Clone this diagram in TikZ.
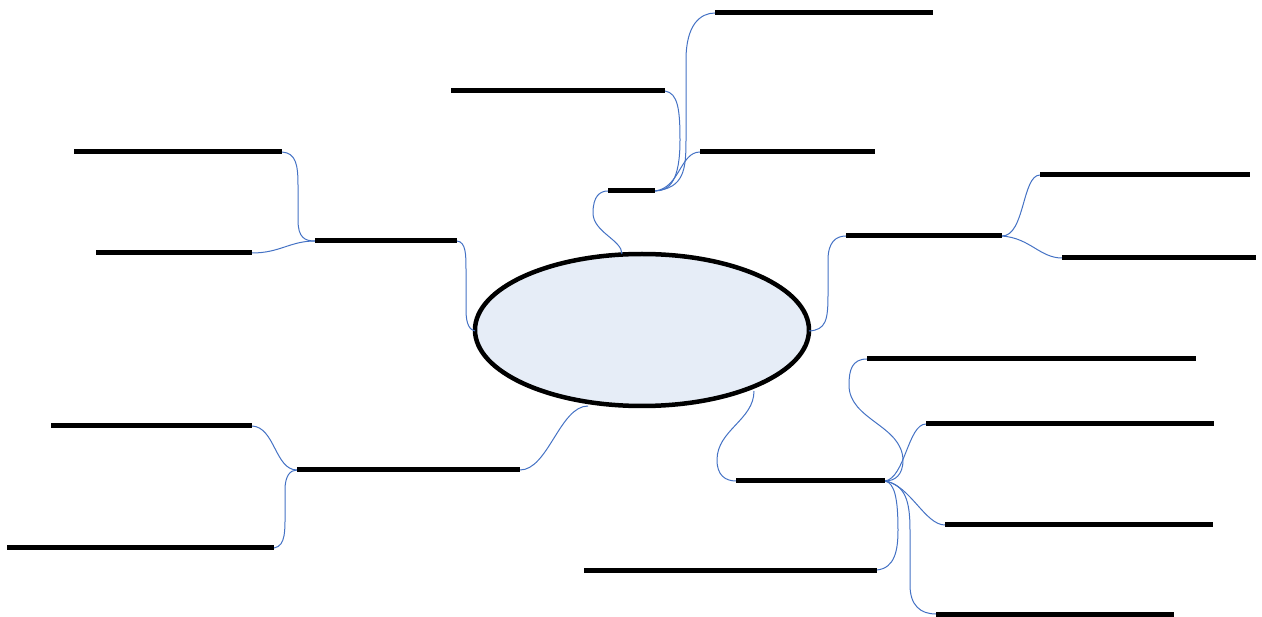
\documentclass[tikz,border=0pt]{standalone}
\usetikzlibrary{shapes.geometric}
\definecolor{hubfill}{RGB}{230,237,247}
\definecolor{linkblue}{RGB}{68,114,196}
\tikzset{
  bar/.style={line width=5pt, black},
  link/.style={line width=1pt, linkblue},
  hub/.style={ellipse, draw=black, line width=4.5pt, fill=hubfill, minimum width=334pt, minimum height=152pt, inner sep=0pt}
}
\begin{document}
\begin{tikzpicture}[x=1pt,y=-1pt]
\useasboundingbox (0,0) rectangle (1262,617);
% hub
\node[hub] (c) at (642,330) {};
% endpoints on hub
\coordinate (e1) at (622,254);
\coordinate (e2) at (475,331);
\coordinate (e3) at (588,406);
\coordinate (e4) at (809,331);
\coordinate (e5) at (754,391);
% top branch
\coordinate (t0L) at (608,191); \coordinate (t0R) at (655,191);
\coordinate (t1L) at (715,13);  \coordinate (t1R) at (933,13);
\coordinate (t2L) at (451,91);  \coordinate (t2R) at (665,91);
\coordinate (t3L) at (700,152); \coordinate (t3R) at (875,152);
% left upper
\coordinate (lu0L) at (315,241); \coordinate (lu0R) at (457,241);
\coordinate (lu1L) at (74,152);  \coordinate (lu1R) at (282,152);
\coordinate (lu2L) at (96,253);  \coordinate (lu2R) at (252,253);
% left lower
\coordinate (ll0L) at (297,470); \coordinate (ll0R) at (520,470);
\coordinate (ll1L) at (51,426);  \coordinate (ll1R) at (252,426);
\coordinate (ll2L) at (7,548);   \coordinate (ll2R) at (274,548);
% right upper
\coordinate (ru0L) at (846,236);  \coordinate (ru0R) at (1002,236);
\coordinate (ru1L) at (1040,175); \coordinate (ru1R) at (1250,175);
\coordinate (ru2L) at (1062,258); \coordinate (ru2R) at (1256,258);
% right lower
\coordinate (rl0L) at (736,481); \coordinate (rl0R) at (885,481);
\coordinate (rl1L) at (867,359); \coordinate (rl1R) at (1196,359);
\coordinate (rl2L) at (926,424); \coordinate (rl2R) at (1214,424);
\coordinate (rl3L) at (945,525); \coordinate (rl3R) at (1213,525);
\coordinate (rl4L) at (936,614); \coordinate (rl4R) at (1174,614);
\coordinate (rl5L) at (584,570); \coordinate (rl5R) at (877,570);

% connectors
\draw[link] (e1) .. controls (622,240) and (593,232) .. (593,213) .. controls (593,196) and (600,191) .. (t0L);
\draw[link] (t0R) .. controls (684,188) and (686,170) .. (686,140) -- (686,60) .. controls (686,25) and (700,13) .. (t1L);
\draw[link] (t2R) .. controls (678,93) and (680,110) .. (680,140) .. controls (680,180) and (670,191) .. (t0R);
\draw[link] (t0R) .. controls (680,188) and (680,152) .. (t3L);

\draw[link] (lu0R) .. controls (466,242) and (466,255) .. (466,270) -- (466,310) .. controls (466,325) and (470,330) .. (e2);
\draw[link] (lu1R) .. controls (296,153) and (298,165) .. (298,185) -- (298,220) .. controls (298,238) and (305,241) .. (lu0L);
\draw[link] (lu2R) .. controls (280,253) and (290,241) .. (lu0L);

\draw[link] (ll0R) .. controls (548,470) and (560,406) .. (e3);
\draw[link] (ll1R) .. controls (275,427) and (275,470) .. (ll0L);
\draw[link] (ll2R) .. controls (286,546) and (285,530) .. (285,510) -- (285,490) .. controls (285,476) and (290,470) .. (ll0L);

\draw[link] (e4) .. controls (826,330) and (828,320) .. (828,295) -- (828,260) .. controls (828,242) and (836,236) .. (ru0L);
\draw[link] (ru0R) .. controls (1025,236) and (1022,175) .. (ru1L);
\draw[link] (ru0R) .. controls (1030,238) and (1040,258) .. (ru2L);

\draw[link] (e5) .. controls (754,420) and (717,430) .. (717,460) .. controls (717,475) and (725,481) .. (rl0L);
\draw[link] (rl1L) .. controls (852,359) and (849,370) .. (849,385) .. controls (849,420) and (902,425) .. (903,460) .. controls (903,475) and (895,481) .. (rl0R);
\draw[link] (rl0R) .. controls (905,478) and (908,424) .. (rl2L);
\draw[link] (rl0R) .. controls (910,485) and (925,525) .. (rl3L);
\draw[link] (rl0R) .. controls (905,485) and (910,500) .. (910,530) -- (910,585) .. controls (910,605) and (920,614) .. (rl4L);
\draw[link] (rl5R) .. controls (895,568) and (898,550) .. (898,530) .. controls (898,500) and (895,483) .. (rl0R);

% bars
\foreach \p in {t0,t1,t2,t3,lu0,lu1,lu2,ll0,ll1,ll2,ru0,ru1,ru2,rl0,rl1,rl2,rl3,rl4,rl5}
  \draw[bar] (\p L) -- (\p R);
\end{tikzpicture}
\end{document}
